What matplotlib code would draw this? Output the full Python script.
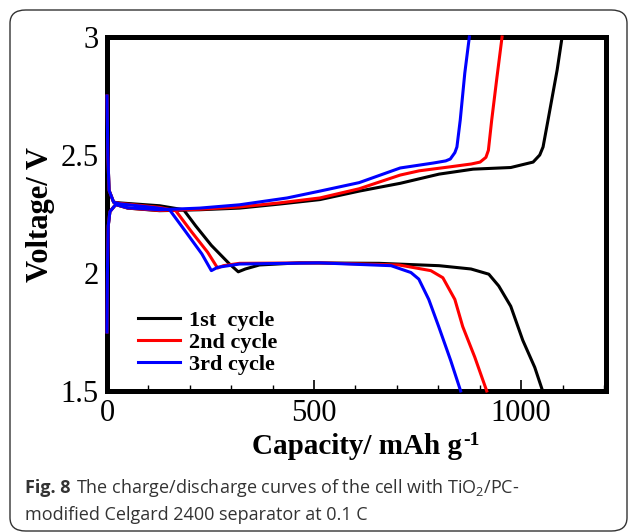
import numpy as np
import matplotlib.pyplot as plt
from matplotlib.patches import FancyBboxPatch

plt.rcParams['mathtext.fontset'] = 'custom'
plt.rcParams['mathtext.rm'] = 'Open Sans'

# discharge curves (capacity mAh/g, voltage V)
dis1_x = [0, 2, 5, 16, 31, 127, 185, 214, 252, 296, 317, 334, 368, 464, 657, 802, 879, 922, 946, 975, 1004, 1033, 1052]
dis1_y = [2.75, 2.5, 2.35, 2.30, 2.297, 2.285, 2.268, 2.20, 2.117, 2.038, 2.005, 2.017, 2.034, 2.043, 2.041, 2.031, 2.017, 1.995, 1.945, 1.859, 1.715, 1.60, 1.50]
dis2_x = [0, 2, 5, 16, 31, 127, 166, 204, 243, 267, 281, 320, 512, 705, 782, 811, 840, 859, 888, 917]
dis2_y = [2.75, 2.5, 2.35, 2.30, 2.295, 2.278, 2.264, 2.175, 2.088, 2.021, 2.031, 2.041, 2.043, 2.034, 2.01, 1.98, 1.888, 1.773, 1.644, 1.50]
dis3_x = [0, 2, 5, 16, 31, 120, 151, 190, 229, 252, 267, 320, 512, 686, 734, 753, 777, 801, 830, 854]
dis3_y = [2.75, 2.5, 2.35, 2.30, 2.293, 2.276, 2.268, 2.175, 2.081, 2.01, 2.024, 2.038, 2.043, 2.031, 2.002, 1.974, 1.888, 1.773, 1.629, 1.50]

# charge curves
chg1_x = [0, 1, 3, 7, 21, 50, 127, 224, 320, 416, 514, 609, 708, 802, 884, 975, 1029, 1045, 1053, 1065, 1087, 1099]
chg1_y = [1.75, 2.0, 2.2, 2.26, 2.29, 2.275, 2.264, 2.268, 2.275, 2.292, 2.311, 2.347, 2.38, 2.419, 2.44, 2.447, 2.47, 2.50, 2.534, 2.648, 2.86, 3.0]
chg2_x = [0, 1, 3, 7, 21, 50, 127, 224, 320, 416, 514, 609, 708, 754, 829, 880, 901, 915, 921, 929, 941, 954]
chg2_y = [1.75, 2.0, 2.2, 2.26, 2.29, 2.275, 2.265, 2.27, 2.28, 2.297, 2.318, 2.357, 2.415, 2.433, 2.45, 2.462, 2.47, 2.49, 2.52, 2.648, 2.82, 3.0]
chg3_x = [0, 1, 3, 7, 21, 50, 127, 224, 320, 435, 514, 609, 708, 788, 818, 829, 840, 845, 853, 864, 875]
chg3_y = [1.75, 2.0, 2.2, 2.26, 2.29, 2.276, 2.268, 2.275, 2.289, 2.318, 2.347, 2.383, 2.445, 2.466, 2.475, 2.483, 2.51, 2.534, 2.648, 2.847, 3.0]

labels = ['1st  cycle', '2nd cycle', '3rd cycle']
colors = ['black', 'red', 'blue']

W, H = 629, 532
fig = plt.figure(figsize=(W / 100, H / 100), dpi=100)
fig.patches.append(FancyBboxPatch((10 / W, 1 / H), 617 / W, 521 / H,
                                  boxstyle='round,pad=0,rounding_size=0.025',
                                  transform=fig.transFigure, fill=False,
                                  edgecolor='#333333', linewidth=1.0))

ax = fig.add_axes([107 / W, 1 - 391 / H, 499 / W, 354 / H])

dis = [(dis1_x, dis1_y), (dis2_x, dis2_y), (dis3_x, dis3_y)]
chg = [(chg1_x, chg1_y), (chg2_x, chg2_y), (chg3_x, chg3_y)]
for i in range(3):
    ax.plot(dis[i][0], dis[i][1], color=colors[i], lw=2.2, label=labels[i],
            zorder=3, clip_on=False)
    ax.plot(chg[i][0], chg[i][1], color=colors[i], lw=2.2, zorder=3, clip_on=False)

ax.set_xlim(0, 1205)
ax.set_ylim(1.5, 3)
ax.set_xticks([0, 500, 1000])
ax.set_xticks(np.arange(0, 1201, 100), minor=True)
ax.set_yticks([1.5, 2, 2.5, 3])
ax.set_yticklabels(['1.5', '2', '2.5', '3'])
ax.tick_params(labelsize=22, pad=6)
ax.tick_params(axis='x', which='major', direction='in', length=8, width=1.2)
ax.tick_params(axis='x', which='minor', direction='in', length=4, width=1.0)
ax.tick_params(axis='y', length=0)
for lab in ax.get_xticklabels() + ax.get_yticklabels():
    lab.set_fontfamily('Liberation Serif')
for s in ax.spines.values():
    s.set_linewidth(3.6)

xl = ax.set_xlabel('Capacity/ mAh g', fontsize=21, fontweight='bold',
                   fontfamily='Liberation Serif', labelpad=3)
ax.annotate('-1', xy=(1, 1), xycoords=xl, xytext=(1, -12), textcoords='offset points',
            fontsize=14, fontweight='bold', fontfamily='Liberation Serif',
            ha='left', va='bottom', annotation_clip=False)
ax.set_ylabel('Voltage/ V', fontsize=22, fontweight='bold',
              fontfamily='Liberation Serif', labelpad=4)

leg = ax.legend(loc='lower left', bbox_to_anchor=(0.022, -0.01), frameon=False,
                prop={'family': 'Liberation Serif', 'weight': 'bold', 'size': 16},
                handlelength=1.9, handletextpad=0.4, labelspacing=0.05)

t1 = fig.text(25 / W, 1 - 488 / H, 'Fig. 8', fontsize=13, fontfamily='Open Sans',
              fontweight='bold', va='center', color='#333333')
ax.annotate('The charge/discharge curves of the cell with TiO$_2$/PC-', xy=(1, 0.5),
            xycoords=t1, xytext=(4, 0), textcoords='offset points', va='center',
            fontsize=13, fontfamily='Open Sans', color='#333333', annotation_clip=False)
fig.text(25 / W, 1 - 515 / H, 'modified Celgard 2400 separator at 0.1 C',
         fontsize=13, fontfamily='Open Sans', va='center', color='#333333')

fig.savefig('out.png', dpi=100)
